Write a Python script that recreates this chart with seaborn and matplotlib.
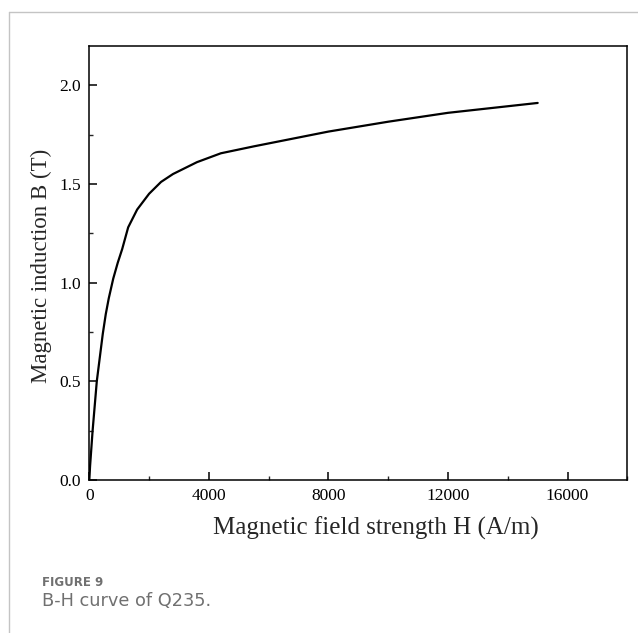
import matplotlib
matplotlib.use('Agg')
import matplotlib.pyplot as plt
from matplotlib.lines import Line2D
from matplotlib.ticker import MultipleLocator
import numpy as np
import pandas as pd
import seaborn as sns

# B-H points
H = [0, 25, 110, 250, 350, 450, 550, 650, 800, 950, 1100, 1300, 1600, 2000,
     2400, 2800, 3600, 4400, 5500, 6500, 8000, 10000, 12000, 15000]
B = [0, 0.07, 0.25, 0.5, 0.62, 0.74, 0.84, 0.92, 1.02, 1.1, 1.17, 1.28, 1.37, 1.45,
     1.51, 1.55, 1.61, 1.655, 1.69, 1.72, 1.765, 1.815, 1.86, 1.91]
x_ticks = [0, 4000, 8000, 12000, 16000]
y_ticks = [0.0, 0.5, 1.0, 1.5, 2.0]

df = pd.DataFrame({'H': H, 'B': B})

sns.set_theme(style='ticks')
serif = ['Liberation Serif', 'DejaVu Serif']
sans = ['DejaVu Sans']
plt.rcParams['font.family'] = serif

fig = plt.figure(figsize=(6.38, 6.33), dpi=100)
ax = fig.add_axes([0.14, 0.2417, 0.8433, 0.6861])
sns.lineplot(data=df, x='H', y='B', ax=ax, color='black', linewidth=1.6)

ax.set_xlim(0, 18000)
ax.set_ylim(0, 2.2)
ax.set_xticks(x_ticks)
ax.set_yticks(y_ticks)
ax.set_xticklabels([str(t) for t in x_ticks])
ax.set_yticklabels(['%.1f' % t for t in y_ticks])
ax.xaxis.set_minor_locator(MultipleLocator(2000))
ax.yaxis.set_minor_locator(MultipleLocator(0.25))
ax.tick_params(which='major', direction='in', length=6, width=1.1, labelsize=12.5,
               colors='black', pad=6, top=False, right=False)
ax.tick_params(which='minor', direction='in', length=3, width=1.0, top=False, right=False)
for s in ax.spines.values():
    s.set_visible(True)
    s.set_linewidth(1.1)
    s.set_color('black')

ax.set_xlabel('')
ax.set_ylabel('')
fig.text(376 / 638, 1 - 528 / 633, 'Magnetic field strength H (A/m)', fontsize=18,
         ha='center', va='center', family=serif)
fig.text(41 / 638, 1 - 265.5 / 633, 'Magnetic induction B (T)', fontsize=16.5, rotation=90,
         ha='center', va='center', family=serif)

# card border on the left and top
fig.add_artist(Line2D([9 / 638, 9 / 638], [0, 1 - 12 / 633], transform=fig.transFigure,
                      color='#c4c4c4', linewidth=1.0))
fig.add_artist(Line2D([9 / 638, 1], [1 - 12 / 633, 1 - 12 / 633], transform=fig.transFigure,
                      color='#c4c4c4', linewidth=1.0))

fig.text(42 / 638, 1 - 583 / 633, 'FIGURE 9', fontsize=8.5, fontweight='bold', color='#707070',
         ha='left', va='center', family=sans)
fig.text(42 / 638, 1 - 601 / 633, 'B-H curve of Q235.', fontsize=12.8, color='#707070',
         ha='left', va='center', family=sans)

fig.savefig('out.png', dpi=100)
